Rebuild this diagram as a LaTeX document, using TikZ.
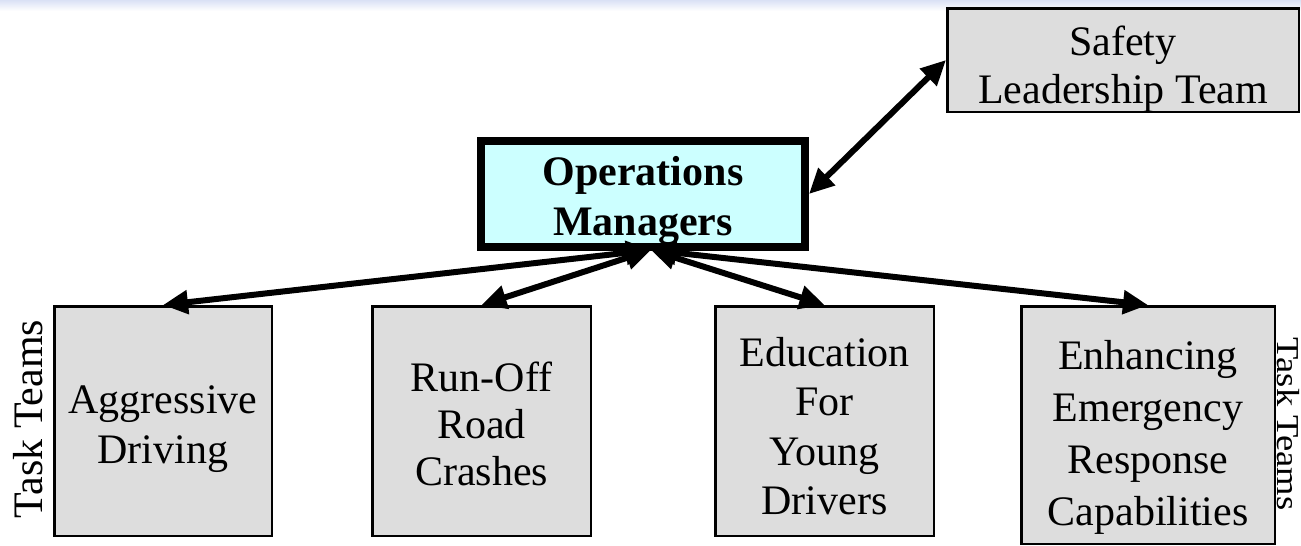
\documentclass[tikz,border=0pt]{standalone}
\usepackage{fontspec}
\setmainfont{Liberation Serif}
\usetikzlibrary{arrows.meta}
\definecolor{boxgray}{RGB}{221,221,221}
\definecolor{opscyan}{RGB}{204,255,255}
\definecolor{bandtop}{RGB}{218,225,245}
\begin{document}
\begin{tikzpicture}[x=1pt,y=-1pt,
  gbox/.style={draw=black, line width=2.5pt, fill=boxgray, inner sep=0pt},
  opsbox/.style={draw=black, line width=8pt, fill=opscyan, inner sep=0pt},
  boxtext/.style={inner sep=0pt, align=center, font=\fontsize{42}{#1}\selectfont},
  boxtext/.default=49,
  opstext/.style={inner sep=0pt, align=center, font=\fontsize{42}{50}\selectfont\bfseries},
  link/.style={line width=6pt, {Triangle[length=25pt,width=23pt]}-{Triangle[length=25pt,width=23pt]}},
  sidelabel/.style={inner sep=0pt, font=\fontsize{42}{49}\selectfont}
]
\useasboundingbox (0,0) rectangle (1301,546);
\shade[top color=bandtop, bottom color=white] (0,0) rectangle (1301,11);

\node[gbox, minimum width=351.5, minimum height=103.5] (safety) at (1123,60) {};
\node[boxtext=48, yshift=-9pt] (safetyt) at (safety.center) {Safety\\Leadership Team};

\node[opsbox, minimum width=324, minimum height=106] (ops) at (643,194) {};
\node[opstext, yshift=-7pt] (opst) at (ops.center) {Operations\\Managers};

\node[gbox, minimum width=217.5, minimum height=229.5] (b1) at (163,421) {};
\node[boxtext=50, yshift=-8pt] (b1t) at (b1.center) {Aggressive\\Driving};

\node[gbox, minimum width=218.5, minimum height=229.5] (b2) at (481.5,421) {};
\node[boxtext=47, yshift=-3pt] (b2t) at (b2.center) {Run-Off\\Road\\Crashes};

\node[gbox, minimum width=218.5, minimum height=229.5] (b3) at (824.5,421) {};
\node[boxtext=49.5, yshift=-5pt] (b3t) at (b3.center) {Education\\For\\Young\\Drivers};

\node[gbox, minimum width=253.5, minimum height=237.5] (b4) at (1148,425) {};
\node[boxtext=52, yshift=-12pt] (b4t) at (b4.center) {Enhancing\\Emergency\\Response\\Capabilities};

\node[sidelabel, rotate=90, anchor=base] (tl) at (42,419) {Task Teams};
\node[sidelabel, rotate=-90, anchor=base, xscale=0.87, yscale=0.76] (tr) at (1277,424) {Task Teams};

\coordinate (hub) at (651,250);
\draw[link] (safety.west) -- (ops.east);
\draw[link] (b1.north) -- (hub);
\draw[link] (b2.north) -- (hub);
\draw[link] (b3.north) -- (hub);
\draw[link] (b4.north) -- (hub);
\end{tikzpicture}
\end{document}
